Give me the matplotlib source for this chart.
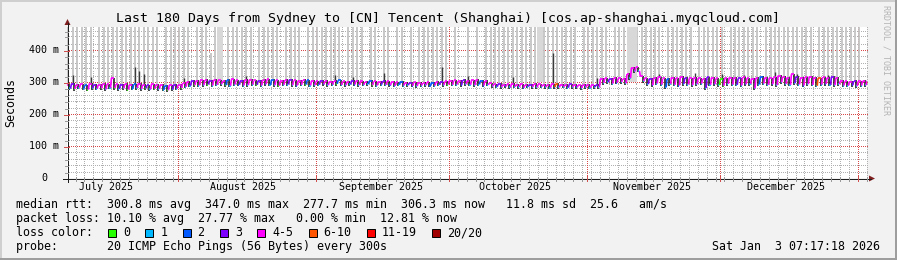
import matplotlib
matplotlib.use("Agg")
import matplotlib.pyplot as plt
from matplotlib.collections import LineCollection
from matplotlib.patches import Polygon, Rectangle
from matplotlib.lines import Line2D
from datetime import datetime

# ---------------- data ----------------
START = datetime(2025, 7, 7, 7, 17, 18)
SPAN_DAYS = 180

title = "Last 180 Days from Sydney to [CN] Tencent (Shanghai) [cos.ap-shanghai.myqcloud.com]"
y_ticks = [0, 100, 200, 300, 400]
y_tick_labels = ["0", "100 m", "200 m", "300 m", "400 m"]
month_labels = ["July 2025", "August 2025", "September 2025", "October 2025",
                "November 2025", "December 2025"]

# daily median level (ms) and daily dip (ms)
med_hi = [
    292, 294, 291, 293, 290, 295, 292, 291, 294, 293,
    312, 293, 292, 294, 291, 293, 295, 292, 290, 293,
    292, 291, 289, 290, 292, 291, 296, 301, 303, 304,
    305, 306, 304, 307, 305, 303, 306, 308, 305, 304,
    306, 307, 305, 304, 306, 308, 306, 305, 303, 306,
    307, 305, 304, 306, 305, 303, 302, 304, 303, 301,
    303, 305, 302, 301, 303, 304, 302, 300, 303, 302,
    301, 303, 302, 300, 299, 301, 298, 297, 299, 298,
    297, 299, 298, 300, 299, 302, 304, 305, 303, 306,
    304, 305, 307, 304, 303, 296, 293, 294, 292, 293,
    294, 292, 293, 291, 292, 294, 293, 292, 291, 293,
    295, 292, 291, 293, 292, 290, 291, 292, 290, 291,
    310, 312, 309, 313, 311, 310, 325, 344, 346, 318,
    312, 310, 313, 315, 311, 309, 314, 312, 316, 313,
    311, 314, 312, 310, 315, 313, 311, 309, 312, 314,
    313, 311, 315, 312, 310, 313, 316, 314, 312, 315,
    320, 317, 314, 324, 316, 313, 315, 317, 314, 312,
    315, 313, 316, 314, 303, 302, 301, 303, 302, 304]

med_lo = [
    280, 278, 282, 279, 276, 281, 279, 280, 277, 282,
    281, 278, 280, 276, 279, 281, 278, 280, 277, 279,
    278, 276, 274, 277, 279, 281, 285, 288, 290, 289,
    290, 292, 289, 291, 293, 290, 288, 292, 291, 289,
    290, 292, 291, 289, 293, 291, 290, 288, 291, 292,
    290, 289, 291, 292, 289, 290, 291, 293, 290, 292,
    294, 291, 290, 293, 292, 290, 291, 293, 290, 289,
    292, 291, 290, 288, 291, 289, 290, 288, 287, 289,
    290, 288, 289, 291, 290, 292, 291, 292, 290, 293,
    291, 290, 292, 289, 291, 286, 285, 284, 286, 283,
    285, 284, 282, 285, 284, 283, 285, 284, 282, 284,
    283, 285, 282, 284, 283, 281, 283, 282, 284, 283,
    297, 299, 295, 298, 300, 296, 312, 333, 335, 303,
    293, 290, 295, 292, 283, 294, 291, 289, 294, 292,
    290, 293, 295, 281, 291, 293, 290, 288, 294, 292,
    291, 289, 293, 294, 280, 292, 295, 291, 293, 290,
    299, 294, 291, 296, 292, 289, 293, 291, 288, 292,
    294, 291, 290, 293, 289, 288, 290, 287, 289, 290]

# loss class per day (0:'0' 1:'1' 2:'2' 3:'3' 4:'4-5' 5:'6-10' 6:'11-19' 7:'20/20')
loss_hi = [int(c) for c in (
    "4344243444" "4434424434" "4424344434" "4434442443" "4443442444"
    "3444244344" "4244344424" "4344424344" "4424344443" "4442444344"
    "4444344444" "5443444443" "4434444444" "4344424443" "4444344044"
    "4344442444" "4444344445" "4434444344")]
loss_lo = [int(c) for c in (
    "1011011011" "0110111010" "1101101101" "1011101121" "1101211011"
    "1210111211" "0111211101" "1121111211" "1211101121" "1112111121"
    "1121111112" "1111211111" "1112111111" "1211111211" "1111121011"
    "1121111121" "1111121111" "2111112111")]

# top of the light smoke (ms, 0 = no tall smoke that day)
smoke_top = [
    480, 480, 480, 480, 480, 480, 0, 480, 480, 480,
    480, 480, 480, 480, 480, 480, 480, 480, 480, 480,
    480, 0, 480, 480, 480, 480, 480, 480, 0, 480,
    480, 480, 390, 480, 480, 0, 480, 480, 480, 480,
    480, 480, 0, 480, 480, 480, 480, 480, 0, 480,
    480, 480, 480, 0, 480, 480, 480, 480, 480, 480,
    480, 480, 0, 480, 480, 480, 480, 0, 480, 480,
    0, 480, 480, 0, 480, 480, 0, 480, 0, 480,
    480, 480, 480, 480, 480, 480, 0, 480, 0, 0,
    480, 0, 480, 0, 480, 480, 480, 480, 480, 480,
    480, 480, 480, 480, 480, 480, 480, 480, 480, 480,
    480, 480, 480, 480, 480, 0, 480, 480, 480, 480,
    480, 480, 0, 480, 480, 480, 480, 480, 480, 480,
    480, 480, 480, 480, 0, 480, 480, 480, 480, 480,
    480, 0, 480, 480, 480, 480, 480, 480, 0, 480,
    480, 480, 480, 480, 480, 480, 0, 480, 480, 480,
    480, 480, 480, 480, 480, 480, 480, 480, 0, 480,
    480, 480, 480, 480, 480, 480, 480, 480, 480, 0]

wide_smoke_start = [33.8, 105.8, 126.0]
wide_smoke_end = [35.0, 107.0, 128.2]

spike_days = [1, 5, 15, 16, 17, 26, 40, 60, 64, 71, 84, 90, 100, 109, 119,
              133, 141, 147, 152, 159, 164, 171]
spike_tops = [322, 316, 348, 335, 325, 312, 318, 322, 316, 327, 348, 318, 315,
              390, 314, 325, 328, 326, 322, 332, 324, 322]

legend_line1 = "median rtt:  300.8 ms avg  347.0 ms max  277.7 ms min  306.3 ms now   11.8 ms sd  25.6   am/s"
legend_line2 = "packet loss: 10.10 % avg  27.77 % max   0.00 % min  12.81 % now"
loss_labels = ["0", "1", "2", "3", "4-5", "6-10", "11-19", "20/20"]
loss_colors = ["#26ff00", "#00b8ff", "#0059ff", "#7e00ff", "#ff00ff",
               "#ff5500", "#ff0000", "#a00000"]
probe_text = "probe:       20 ICMP Echo Pings (56 Bytes) every 300s"
stamp_text = "Sat Jan  3 07:17:18 2026"
watermark = "RRDTOOL / TOBI OETIKER"

# ---------------- layout ----------------
W, H = 897, 260
L, R, T, B = 67, 867, 27, 178
PX_PER_MS = 0.32
YMAX = (B - T) / PX_PER_MS
MONO = "DejaVu Sans Mono"

BG = "#f2f2f2"
GRID_DOT = "#b0b0b0"
MGRID_DOT = "#d84848"
ARROW = "#801f1f"
AXIS = "#1f1f1f"


def fx(x):
    return x / W


def fy(y):
    return 1 - y / H


def off(dt):
    return (dt - START).total_seconds() / 86400.0


def xpix(d):
    return L + d * (R - L) / SPAN_DAYS


def ypix(v):
    return B - v * PX_PER_MS


fig = plt.figure(figsize=(W / 100, H / 100), dpi=100, facecolor=BG)
ax = fig.add_axes([fx(L), fy(B), (R - L) / W, (B - T) / H])
ax.set_facecolor("white")
ax.set_xlim(0, SPAN_DAYS)
ax.set_ylim(0, YMAX)
for s in ax.spines.values():
    s.set_visible(False)
ax.set_xticks([])
ax.set_yticks([])

# ---- grid as 1-pixel dots (1 on / 1 off) ----
month_starts = [datetime(2025, m, 1) for m in (8, 9, 10, 11, 12)] + [datetime(2026, 1, 1)]
major_x = [off(m) for m in month_starts]
first = off(datetime(2025, 7, 7))
minor_x = []
k = 0
while first + 2 * k < SPAN_DAYS:
    t = first + 2 * k
    if t > 0 and all(abs(t - m) > 0.1 for m in major_x):
        minor_x.append(t)
    k += 1
minor_y = [v for v in range(20, int(YMAX) + 1, 20) if v % 100]
major_y = [100, 200, 300, 400]


def dots_v(cols, color, z):
    xs, ys = [], []
    for t in cols:
        c = int(round(xpix(t)))
        for r in range(T, B, 2):
            xs.append(fx(c + 0.5))
            ys.append(fy(r + 0.5))
    ax.plot(xs, ys, ",", color=color, transform=fig.transFigure, zorder=z, clip_on=False)


def dots_h(rows, color, z):
    xs, ys = [], []
    for v in rows:
        r = int(round(ypix(v)))
        for c in range(L + 1, R, 2):
            xs.append(fx(c + 0.5))
            ys.append(fy(r + 0.5))
    ax.plot(xs, ys, ",", color=color, transform=fig.transFigure, zorder=z, clip_on=False)


dots_v(minor_x, GRID_DOT, 1)
dots_h(minor_y, GRID_DOT, 1)
dots_v(major_x, MGRID_DOT, 1.5)
dots_h(major_y, MGRID_DOT, 1.5)

# light (tall) smoke
days = list(range(SPAN_DAYS))
tx = [d + 0.3 for d in days if smoke_top[d] > 0]
tb = [med_hi[d] for d in days if smoke_top[d] > 0]
tt = [smoke_top[d] for d in days if smoke_top[d] > 0]
ax.vlines(tx, tb, tt, colors="#c4c4c4", lw=1.3, zorder=2)
for a, b in zip(wide_smoke_start, wide_smoke_end):
    ax.fill_between([a, b], [300, 300], [480, 480], color="#d8d8d8", lw=0, zorder=2)

# dark smoke spikes
ax.vlines([d + 0.3 for d in spike_days], [med_hi[d] for d in spike_days], spike_tops,
          colors="#3a3a3a", lw=1.0, zorder=3)

# dark smoke around the median dips
ax.vlines([d + 0.55 for d in days], [med_lo[d] - 5 for d in days], [med_hi[d] + 2 for d in days],
          colors="#111111", lw=1.1, zorder=3)

# median line colored by loss
segs, cols = [], []
for d in days:
    hi, lo = med_hi[d], med_lo[d]
    nxt = med_hi[d + 1] if d + 1 < SPAN_DAYS else hi
    segs.append([(d, hi), (d + 0.55, hi)])
    cols.append(loss_colors[loss_hi[d]])
    segs.append([(d + 0.55, lo), (d + 0.8, lo)])
    cols.append(loss_colors[loss_lo[d]])
    segs.append([(d + 0.8, lo), (d + 1.0, nxt)])
    cols.append(loss_colors[loss_hi[d + 1] if d + 1 < SPAN_DAYS else loss_hi[d]])
ax.add_collection(LineCollection(segs, colors=cols, linewidths=1.2, capstyle="butt", zorder=4))


# ---------------- axes, arrows, ticks ----------------
def fline(x0, y0, x1, y1, color, lw=0.72):
    fig.add_artist(Line2D([fx(x0), fx(x1)], [fy(y0), fy(y1)], transform=fig.transFigure,
                          color=color, lw=lw, solid_capstyle="butt", antialiased=False))


fline(L - 4, B + 0.5, R + 4, B + 0.5, AXIS)
fline(L + 0.5, B + 4, L + 0.5, T - 4, AXIS)
fig.add_artist(Polygon([(fx(R + 2), fy(B - 2.5)), (fx(R + 2), fy(B + 3.5)), (fx(R + 8), fy(B + 0.5))],
                       closed=True, transform=fig.transFigure, color=ARROW, lw=0))
fig.add_artist(Polygon([(fx(L - 2.5), fy(T - 2)), (fx(L + 3.5), fy(T - 2)), (fx(L + 0.5), fy(T - 8))],
                       closed=True, transform=fig.transFigure, color=ARROW, lw=0))
for t in minor_x:
    xp = round(xpix(t)) + 0.5
    fline(xp, B - 1, xp, B + 2.5, "#9a9a9a")
for t in major_x:
    xp = round(xpix(t)) + 0.5
    fline(xp, B - 2, xp, B + 3, "#d05050")
for v in minor_y:
    yp = round(ypix(v)) + 0.5
    fline(L - 2, yp, L + 1, yp, "#9a9a9a")
for v in major_y:
    yp = round(ypix(v)) + 0.5
    fline(L - 3, yp, L + 2, yp, "#d05050")

# y tick labels
for v, lab in zip(y_ticks, y_tick_labels):
    xr = 59 if lab != "0" else 47
    fig.text(fx(xr), fy(ypix(v)), lab, ha="right", va="center", fontsize=7.2, family=MONO)

# month labels (centered on the 16th)
mids = [datetime(2025, m, 16) for m in (7, 8, 9, 10, 11, 12)]
for dt, lab in zip(mids, month_labels):
    fig.text(fx(xpix(off(dt))), fy(187.5), lab, ha="center", va="center", fontsize=7.2, family=MONO)

# title, axis label, watermark
fig.text(fx(448), fy(18.5), title, ha="center", va="center", fontsize=9.5, family=MONO)
fig.text(fx(11), fy(102.5), "Seconds", ha="center", va="center", rotation=90, fontsize=8.4, family=MONO)
fig.text(fx(886), fy(5), watermark, ha="center", va="top", rotation=270, fontsize=6,
         family=MONO, color="#b4b4b4")

# legend
fig.text(fx(16), fy(204.5), legend_line1, ha="left", va="center", fontsize=8.4, family=MONO)
fig.text(fx(16), fy(218.5), legend_line2, ha="left", va="center", fontsize=8.4, family=MONO)
fig.text(fx(16), fy(232.5), "loss color:", ha="left", va="center", fontsize=8.4, family=MONO)
bx = 108
for lab, col in zip(loss_labels, loss_colors):
    fig.add_artist(Rectangle((fx(bx), fy(236.5)), 8 / W, 8 / H, transform=fig.transFigure,
                             facecolor=col, edgecolor="#000000", lw=0.7))
    fig.text(fx(bx + 15), fy(232.5), lab, ha="left", va="center", fontsize=8.4, family=MONO)
    bx += 30.3 + 7 * len(lab)
fig.text(fx(16), fy(246.5), probe_text, ha="left", va="center", fontsize=8.4, family=MONO)
fig.text(fx(880), fy(246.5), stamp_text, ha="right", va="center", fontsize=8.4, family=MONO)

# 3D border
fig.add_artist(Rectangle((0, fy(2)), 1, 2 / H, transform=fig.transFigure, color="#cfcfcf", lw=0))
fig.add_artist(Rectangle((0, 0), 2 / W, 1, transform=fig.transFigure, color="#cfcfcf", lw=0))
fig.add_artist(Rectangle((0, 0), 1, 2 / H, transform=fig.transFigure, color="#9e9e9e", lw=0))
fig.add_artist(Rectangle((fx(W - 2), 0), 2 / W, 1, transform=fig.transFigure, color="#9e9e9e", lw=0))

fig.savefig("out.png", dpi=100, facecolor=BG)
